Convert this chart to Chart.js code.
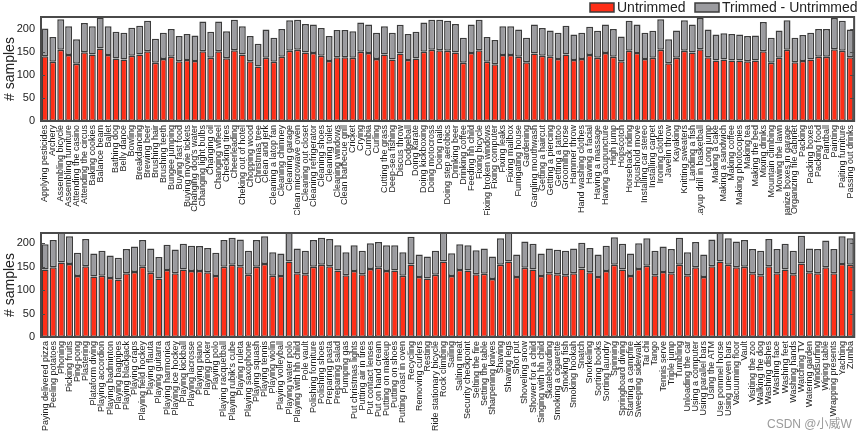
<!DOCTYPE html>
<html><head><meta charset="utf-8">
<script src="https://cdn.jsdelivr.net/npm/chart.js@4.4.0/dist/chart.umd.min.js"></script>
<style>
html,body{margin:0;padding:0;background:#fff;width:865px;height:436px;overflow:hidden;}
#c1{position:absolute;left:0;top:0;}
#c2{position:absolute;left:0;top:215px;}
#wm{position:absolute;left:767px;top:414px;font:12px "Liberation Sans","Noto Sans CJK SC",sans-serif;color:#9a9a9a;}
</style></head><body>
<canvas id="c1" width="865" height="215"></canvas>
<canvas id="c2" width="865" height="221"></canvas>
<div id="wm">CSDN @小威W</div>
<script>
const seriesNames = ["Untrimmed", "Trimmed - Untrimmed"];
const yTicks = [0, 50, 100, 150, 200];

const topCategories = ["Applying pesticides","Archery","Assembling bicycle","Assembling furniture","Attending the casino","Attending the circus","Baking cookies","Balance beam","Ballet","Bathing dog","Belly dance","Bowling","Breakdancing","Brewing beer","Brushing hair","Brushing teeth","Bungee jumping","Buying fast food","Buying movie tickets","Changing dog's water","Changing light bulbs","Changing oil","Changing wheel","Checking tires","Cheerleading","Cheking out of hotel","Chopping wood","Christmas tree","Clean and jerk","Cleaning a latop fan","Cleaning chimney","Cleaning garage","Clean microwave oven","Cleaning out closet","Cleaning refrigerator","Cleaning shoes","Cleaning toilet","Cleaning windows","Clean barbecue grill","Cricket","Crying","Cumbia","Curling","Cutting the grass","Deep-sea fishing","Discus throw","Dodgeball","Doing karate","Doing kickboxing","Doing motocross","Doing nails","Doing step aerobics","Drinking beer","Drinking coffee","Feeding hh child","Fixing bicycle","Fixing broken windows","Fixing computer","Fixing leaks","Fixing mailbox","Fumigating house","Gardening","Gargling mouthwash","Getting a haircut","Getting a piercing","Getting a tattoo","Grooming horse","Hammer throw","Hand washing clothes","Having a facial","Having a massage","Having acupuncture","High jump","Hopscotch","Horseback riding","Houshold move","Installing car stereo","Installing carpet","Ironing clothes","Javelin throw","Kayaking","Knitting sweaters","Landing a fish","Layup drill in basketball","Long jump","Making a cake","Making a sandwich","Making coffee","Making photocopies","Making tea","Making the bed","Mixing drinks","Mountain climbing","Mowing the lawn","Organize boxes in garage","Organizing file cabinet","Packing","Packing boxes","Packing food","Paintball","Painting","Paiting furniture","Passing out drinks"];
const topUntrimmed = [140,128,154,143,124,149,144,157,143,135,133,141,144,151,126,134,139,129,132,130,151,137,151,136,153,144,129,118,137,128,139,152,154,148,147,141,130,138,138,137,150,147,134,144,133,146,132,135,150,154,153,152,148,126,147,153,128,123,143,143,139,127,146,141,139,134,144,132,134,143,137,147,139,129,152,147,134,137,154,125,137,152,148,155,138,131,133,131,131,129,131,151,126,137,154,127,130,133,139,139,155,152,138];
const topTrimmedMinusUntrimmed = [60,54,66,62,53,63,61,67,62,58,58,61,62,66,52,57,60,55,56,55,64,56,64,58,66,61,55,49,61,52,60,66,65,62,62,60,54,59,59,57,63,62,57,61,58,62,56,58,63,65,66,65,62,54,62,66,54,52,62,62,59,53,63,60,57,57,62,55,57,61,58,62,60,54,65,62,57,58,66,52,59,66,61,68,60,56,57,57,56,55,54,63,54,59,64,53,56,58,60,60,68,65,60];

const bottomCategories = ["Paying delivered pizza","Peeling potatoes","Phoning","Picking fruits","Ping-pong","Plastering","Plataform diving","Playing accordion","Playing badminton","Playing bagpipes","Playing blackjack","Playing craps","Playing field hockey","Playing flauta","Playing guitarra","Playing harmonica","Playing ice hockey","Playing kickball","Playing lacrosse","Playing piano","Playing poker","Playing polo","Playing racquetball","Playing rubik's cube","Playing ruleta","Playing saxophone","Playing squash","Playing tennis","Playing violin","Playing volleyball","Playing water polo","Playing with hh child","Pole vault","Polishing forniture","Polishing shoes","Preparing pasta","Preparing salad","Pumping gas","Put christmas lights","Putting air in tires","Put contact lenses","Put on hand cream","Putting on makeup","Putting on shoes","Putting roast in oven","Recycling","Removing curlers","Resting","Ride stationary bicycle","Rock climbing","Sailing","Salting meat","Security checkpoint","Selting the fire","Setting the table","Sharpening knives","Shaving","Shaving legs","Shot put","Shoveling snow","Shower for a child","Singing with hh child","Skateboarding","Smoking a cigarette","Smoking fish","Smoking hookah","Snatch","Snorkeling","Sorting books","Sorting laundry","Spinning","Springboard diving","Starting a campfire","Sweeping sidewalk","Tai chi","Tango","Tennis serve","Triple jump","Tumbling","Unloading the car","Using a computer","Using parallel bars","Using the ATM","Use pommel horse","Using uneven bars","Vacuuming floor","Vault","Visiting the zoo","Walking the dog","Washing dishes","Washing face","Washing feet","Washing hands","Watching TV","Watering garden","Windsurfing","Wiping table","Wrapping presents","Yachting","Zumba"];
const bottomUntrimmed = [144,149,159,156,130,151,129,131,126,123,136,139,150,137,125,143,136,144,141,141,138,130,150,154,151,133,150,156,131,130,161,136,134,150,154,151,142,132,141,134,145,148,141,142,131,155,128,125,133,161,130,143,142,134,135,124,154,161,128,148,144,130,136,134,132,136,146,138,128,141,154,144,130,145,152,132,139,136,154,132,149,128,151,161,154,149,150,136,132,151,136,144,134,157,138,136,149,136,156,154];
const bottomTrimmedMinusUntrimmed = [54,58,64,59,50,58,49,53,48,46,52,54,57,52,46,54,51,55,54,53,52,50,57,58,57,51,57,59,50,48,62,53,50,57,58,58,54,49,55,50,55,55,55,54,50,59,48,47,51,62,49,55,54,51,54,48,57,62,48,56,55,48,53,52,52,53,55,52,48,54,59,55,48,55,59,52,54,52,58,49,54,48,57,62,57,55,57,52,52,58,52,55,50,59,51,52,57,52,59,57];

const FAM = '"Liberation Sans", Arial, sans-serif';
const RED = '#ff2e17', GRAY = '#9b9b9f', EDGE = '#3c3c3c';

const framePlugin = {
  id: 'frame',
  afterDatasetsDraw(chart) {
    const ctx = chart.ctx, a = chart.chartArea, y = chart.scales.y;
    ctx.save();
    ctx.strokeStyle = '#4a4a4a';
    ctx.lineWidth = 1;
    yTicks.forEach(v => {
      const py = Math.round(y.getPixelForValue(v)) + 0.5;
      ctx.beginPath();
      ctx.moveTo(a.left, py); ctx.lineTo(a.left + 4, py);
      ctx.moveTo(a.right, py); ctx.lineTo(a.right - 4, py);
      ctx.stroke();
    });
    ctx.lineWidth = 2;
    ctx.strokeRect(a.left, a.top, a.right - a.left, a.bottom - a.top);
    ctx.restore();
  }
};

const legendPlugin = {
  id: 'legend2',
  afterDraw(chart) {
    const ctx = chart.ctx, ds = chart.data.datasets;
    const xs = [590, 695];
    ctx.save();
    ctx.font = '14px ' + FAM;
    ctx.textBaseline = 'middle';
    ds.forEach((d, i) => {
      ctx.fillStyle = d.backgroundColor;
      ctx.fillRect(xs[i], 3, 24, 9);
      ctx.strokeStyle = EDGE; ctx.lineWidth = 1.5;
      ctx.strokeRect(xs[i], 3, 24, 9);
      ctx.fillStyle = '#222';
      ctx.fillText(d.label, xs[i] + 27, 8);
    });
    ctx.restore();
  }
};

function makeChart(id, labels, untrimmed, diff, opt) {
  const plugins = [framePlugin];
  if (opt.legend) plugins.push(legendPlugin);
  return new Chart(document.getElementById(id), {
    type: 'bar',
    data: {
      labels: labels,
      datasets: [
        {label: seriesNames[0], data: untrimmed, backgroundColor: RED, borderColor: EDGE, borderWidth: 1.5, borderSkipped: false, barPercentage: 0.88, categoryPercentage: 1},
        {label: seriesNames[1], data: diff, backgroundColor: GRAY, borderColor: EDGE, borderWidth: 1.5, borderSkipped: false, barPercentage: 0.88, categoryPercentage: 1}
      ]
    },
    options: {
      responsive: false,
      animation: false,
      layout: {padding: {top: opt.top, right: 3, left: 0, bottom: 0}},
      plugins: {legend: {display: false}, tooltip: {enabled: false}},
      scales: {
        x: {
          stacked: true,
          grid: {display: false, drawTicks: false}, border: {display: false},
          ticks: {autoSkip: false, maxRotation: 90, minRotation: 90, padding: 4, color: '#222', font: {size: 9, family: FAM}},
          afterFit(s) { s.height = opt.xh; }
        },
        y: {
          stacked: true, min: 0, max: opt.ymax,
          grid: {display: false, drawTicks: false}, border: {display: false},
          ticks: {stepSize: 50, includeBounds: false, padding: 6, color: '#222', font: {size: 11, family: FAM}},
          title: {display: true, text: '# samples', color: '#222', font: {size: 14, family: FAM}, padding: {top: 2, bottom: 0}},
          afterFit(s) { s.width = 41; }
        }
      }
    },
    plugins: plugins
  });
}

makeChart('c1', topCategories, topUntrimmed, topTrimmedMinusUntrimmed, {top: 17, xh: 94, ymax: 225, legend: true});
makeChart('c2', bottomCategories, bottomUntrimmed, bottomTrimmedMinusUntrimmed, {top: 18, xh: 99, ymax: 222, legend: false});
</script>
</body></html>
